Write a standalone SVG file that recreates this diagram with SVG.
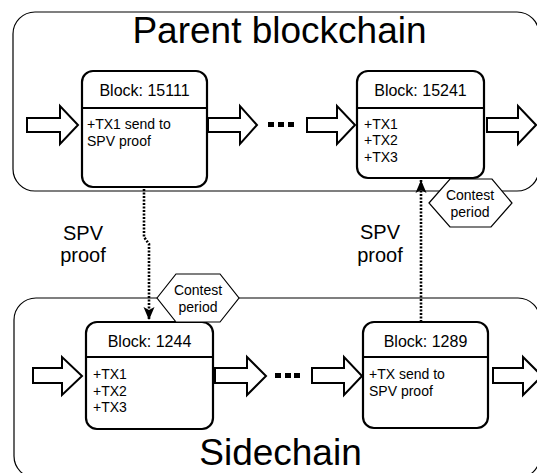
<svg xmlns="http://www.w3.org/2000/svg" width="537" height="473" viewBox="0 0 537 473">
<defs>
<style>
text{font-family:"Liberation Sans",Arial,sans-serif;fill:#000}
.chain{fill:#fff;stroke:#000;stroke-width:1.2}
.block{fill:#fff;stroke:#000;stroke-width:2.2}
.div{stroke:#000;stroke-width:2.2}
.arrow{fill:#fff;stroke:#000;stroke-width:2;stroke-linejoin:miter}
.hex{fill:#fff;stroke:#000;stroke-width:1.2}
.dot{fill:#000}
.title{font-size:37px;text-anchor:middle}
.bt{font-size:16px;text-anchor:middle}
.tx{font-size:14px}
.lbl{font-size:20px;text-anchor:middle}
.cp{font-size:14px;text-anchor:middle}
.conn{fill:none;stroke:#000;stroke-width:2.6;stroke-dasharray:2 1.5}
</style>
<marker id="ah" markerUnits="userSpaceOnUse" markerWidth="14" markerHeight="12" viewBox="0 0 14 12" refX="13" refY="6" orient="auto">
<path d="M0,0.5 L13,6 L0,11.5 L3,6 Z" fill="#000"/>
</marker>
</defs>

<g id="parent-chain">
<rect class="chain" x="13" y="12" width="526" height="179" rx="22"/>
<text class="title" x="279.5" y="43">Parent blockchain</text>
</g>

<g id="sidechain">
<rect class="chain" x="14" y="298" width="526" height="180" rx="22"/>
<text class="title" x="280.5" y="465">Sidechain</text>
</g>

<g id="parent-arrows">
<polygon class="arrow" points="27,118 60,118 60,106 78,125 60,144 60,132 27,132"/>
<polygon class="arrow" points="208,118 240,118 240,106 257,125 240,144 240,132 208,132"/>
<polygon class="arrow" points="307,118 337,118 337,106 355,125 337,144 337,132 307,132"/>
<polygon class="arrow" points="487,118 518,118 518,106 536,125 518,144 518,132 487,132"/>
<rect class="dot" x="268" y="122" width="6" height="5"/>
<rect class="dot" x="278" y="122" width="6" height="5"/>
<rect class="dot" x="288" y="122" width="6" height="5"/>
</g>

<g id="side-arrows">
<polygon class="arrow" points="33,368 62,368 62,357 82,376 62,395 62,383 33,383"/>
<polygon class="arrow" points="215,368 247,368 247,357 266,376 247,395 247,383 215,383"/>
<polygon class="arrow" points="312,368 344,368 344,357 362,376 344,395 344,383 312,383"/>
<polygon class="arrow" points="493,368 523,368 523,357 542,376 523,395 523,383 493,383"/>
<rect class="dot" x="275" y="373" width="6" height="5"/>
<rect class="dot" x="285" y="373" width="6" height="5"/>
<rect class="dot" x="294" y="373" width="6" height="5"/>
</g>

<g id="block-15111">
<rect class="block" x="82" y="71" width="125" height="116" rx="11"/>
<line class="div" x1="82" y1="108" x2="207" y2="108"/>
<text class="bt" x="144.5" y="96">Block: 15111</text>
<text class="tx" x="87" y="129">+TX1 send to</text>
<text class="tx" x="87" y="145.5">SPV proof</text>
</g>

<g id="block-15241">
<rect class="block" x="357" y="71" width="127" height="107" rx="11"/>
<line class="div" x1="357" y1="108" x2="484" y2="108"/>
<text class="bt" x="420.5" y="96">Block: 15241</text>
<text class="tx" x="364" y="128.5">+TX1</text>
<text class="tx" x="364" y="145">+TX2</text>
<text class="tx" x="364" y="161.5">+TX3</text>
</g>

<g id="block-1244">
<rect class="block" x="86" y="322" width="127" height="107" rx="11"/>
<line class="div" x1="86" y1="357" x2="213" y2="357"/>
<text class="bt" x="149.5" y="346.5">Block: 1244</text>
<text class="tx" x="93" y="379">+TX1</text>
<text class="tx" x="93" y="395.5">+TX2</text>
<text class="tx" x="93" y="412">+TX3</text>
</g>

<g id="block-1289">
<rect class="block" x="363" y="322" width="125" height="106" rx="11"/>
<line class="div" x1="363" y1="357" x2="488" y2="357"/>
<text class="bt" x="425.5" y="346.5">Block: 1289</text>
<text class="tx" x="369" y="379">+TX send to</text>
<text class="tx" x="369" y="395.5">SPV proof</text>
</g>

<g id="connectors">
<path class="conn" d="M144,189 V237 L149,244 V320" marker-end="url(#ah)"/>
<path class="conn" d="M421,322 V180" marker-end="url(#ah)"/>
</g>

<g id="contest-upper">
<polygon class="hex" points="429,203 450,179 492,179 512,203 491,227 450,227"/>
<text class="cp" x="470" y="200">Contest</text>
<text class="cp" x="470" y="217">period</text>
</g>

<g id="contest-lower">
<polygon class="hex" points="157,298 176,274 220,274 239,298 220,322 176,322"/>
<text class="cp" x="198" y="295">Contest</text>
<text class="cp" x="198" y="312">period</text>
</g>

<g id="spv-left">
<text class="lbl" x="83" y="240">SPV</text>
<text class="lbl" x="83" y="262">proof</text>
</g>

<g id="spv-right">
<text class="lbl" x="380" y="239">SPV</text>
<text class="lbl" x="380" y="262">proof</text>
</g>
</svg>
